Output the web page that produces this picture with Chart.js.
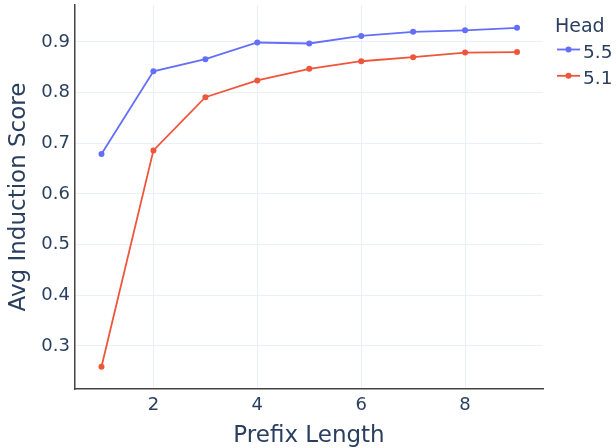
<!DOCTYPE html>
<html>
<head>
<meta charset="utf-8">
<script src="https://cdn.jsdelivr.net/npm/chart.js@4.4.0/dist/chart.umd.min.js"></script>
<style>
  body { margin: 0; background: #fff; }
  #wrap { width: 616px; height: 448px; }
</style>
</head>
<body>
<div id="wrap"><canvas id="chart" width="616" height="448"></canvas></div>
<script>
// data
var prefixLength = [1, 2, 3, 4, 5, 6, 7, 8, 9];
var head55 = [0.679, 0.842, 0.866, 0.899, 0.897, 0.912, 0.920, 0.923, 0.928];
var head51 = [0.259, 0.686, 0.791, 0.824, 0.847, 0.862, 0.870, 0.879, 0.880];
var xTicks = [2, 4, 6, 8];
var yTicks = [0.3, 0.4, 0.5, 0.6, 0.7, 0.8, 0.9];
var seriesNames = ['5.5', '5.1'];
var legendTitle = 'Head';

var fontFam = '"DejaVu Sans", sans-serif';
var textColor = '#2a3f5f';
var gridColor = '#ebf0f8';

function toPoints(vals) {
  var pts = [];
  for (var i = 0; i < vals.length; i++) {
    pts.push({ x: prefixLength[i], y: vals[i] });
  }
  return pts;
}

// legend on the right, plotly style
var headLegend = {
  id: 'headLegend',
  afterDraw: function(chart) {
    var ctx = chart.ctx;
    ctx.save();
    ctx.font = '19px ' + fontFam;
    ctx.fillStyle = textColor;
    ctx.textBaseline = 'alphabetic';
    ctx.fillText(legendTitle, 555, 32);
    ctx.font = '18.5px ' + fontFam;
    chart.data.datasets.forEach(function(ds, i) {
      var y = 49.5 + i * 26.3;
      ctx.strokeStyle = ds.borderColor;
      ctx.lineWidth = 1.8;
      ctx.beginPath();
      ctx.moveTo(557, y);
      ctx.lineTo(580, y);
      ctx.stroke();
      ctx.fillStyle = ds.borderColor;
      ctx.beginPath();
      ctx.arc(568.5, y, 3, 0, Math.PI * 2);
      ctx.fill();
      ctx.fillStyle = textColor;
      ctx.fillText(ds.label, 583, y + 8);
    });
    ctx.restore();
  }
};

var ctx = document.getElementById('chart').getContext('2d');
var chart = new Chart(ctx, {
  type: 'line',
  data: {
    datasets: [
      {
        label: seriesNames[0],
        data: toPoints(head55),
        borderColor: '#636efa',
        backgroundColor: '#636efa',
        borderWidth: 1.8,
        pointRadius: 3,
        pointBorderWidth: 0,
        tension: 0
      },
      {
        label: seriesNames[1],
        data: toPoints(head51),
        borderColor: '#ef553b',
        backgroundColor: '#ef553b',
        borderWidth: 1.8,
        pointRadius: 3,
        pointBorderWidth: 0,
        tension: 0
      }
    ]
  },
  options: {
    responsive: false,
    animation: false,
    layout: { padding: { top: 5, right: 73, left: 0, bottom: 0 } },
    plugins: {
      legend: { display: false },
      tooltip: { enabled: false }
    },
    scales: {
      x: {
        type: 'linear',
        min: 0.49,
        max: 9.5,
        afterBuildTicks: function(scale) {
          scale.ticks = xTicks.map(function(v) { return { value: v }; });
        },
        afterFit: function(scale) {
          scale.height = 59;
          scale.paddingLeft = 0;
          scale.paddingRight = 0;
        },
        grid: { color: gridColor, lineWidth: 1, drawTicks: false },
        border: { color: '#444', width: 1.5 },
        ticks: {
          color: textColor,
          font: { family: fontFam, size: 18 },
          padding: 6,
          maxRotation: 0
        },
        title: {
          display: true,
          text: 'Prefix Length',
          color: textColor,
          font: { family: fontFam, size: 23, lineHeight: 1 },
          padding: { top: 0, bottom: 0 }
        }
      },
      y: {
        min: 0.215,
        max: 0.973,
        afterBuildTicks: function(scale) {
          scale.ticks = yTicks.map(function(v) { return { value: v }; });
        },
        afterFit: function(scale) {
          scale.width = 75;
          scale.paddingTop = 0;
          scale.paddingBottom = 0;
        },
        grid: { color: gridColor, lineWidth: 1, drawTicks: false },
        border: { color: '#444', width: 1.5 },
        ticks: {
          color: textColor,
          font: { family: fontFam, size: 18 },
          padding: 5,
          callback: function(v) { return v.toFixed(1); }
        },
        title: {
          display: true,
          text: 'Avg Induction Score',
          color: textColor,
          font: { family: fontFam, size: 23, lineHeight: 1 },
          padding: { top: 8, bottom: 0 }
        }
      }
    }
  },
  plugins: [headLegend]
});
</script>
</body>
</html>
